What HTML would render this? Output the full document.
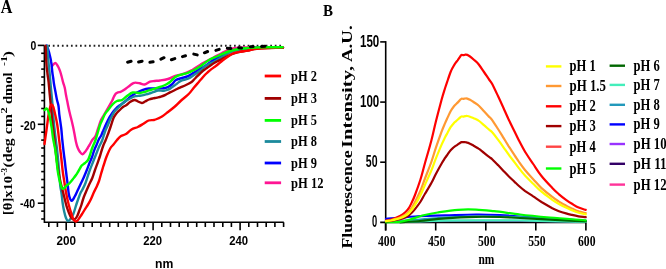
<!DOCTYPE html><html><head><meta charset="utf-8"><style>html,body{margin:0;padding:0;background:#fff;width:666px;height:269px;overflow:hidden}svg{display:block;will-change:transform;filter:blur(0.3px)}</style></head><body>
<svg width="666" height="269" viewBox="0 0 666 269">
<rect width="666" height="269" fill="#fff"/>
<text x="0.8" y="12.8" style="font-family:'Liberation Serif',serif;font-weight:bold;font-size:19px" textLength="11.6" lengthAdjust="spacingAndGlyphs">A</text>
<g transform="translate(12.2,215.0) rotate(-90)"><text x="0" y="0" style="font-family:'Liberation Serif',serif;font-weight:bold;font-size:13.5px" textLength="39.04" lengthAdjust="spacingAndGlyphs">[θ]x10</text></g>
<g transform="translate(12.2,167.5) rotate(-90)"><text x="0" y="0" style="font-family:'Liberation Serif',serif;font-weight:bold;font-size:13.5px" textLength="53.54" lengthAdjust="spacingAndGlyphs">(deg cm</text></g>
<g transform="translate(12.2,104.0) rotate(-90)"><text x="0" y="0" style="font-family:'Liberation Serif',serif;font-weight:bold;font-size:13.5px" textLength="31.57" lengthAdjust="spacingAndGlyphs">dmol</text></g>
<g transform="translate(12.2,57) rotate(-90)"><text x="0" y="0" style="font-family:'Liberation Serif',serif;font-weight:bold;font-size:13.5px" textLength="6.15" lengthAdjust="spacingAndGlyphs">)</text></g>
<g transform="translate(6.8,175.5) rotate(-90)"><text x="0" y="0" style="font-family:'Liberation Serif',serif;font-weight:bold;font-size:8.5px" textLength="7.67" lengthAdjust="spacingAndGlyphs">-3</text></g>
<g transform="translate(6.8,113.5) rotate(-90)"><text x="0" y="0" style="font-family:'Liberation Serif',serif;font-weight:bold;font-size:8.5px" textLength="6.25" lengthAdjust="spacingAndGlyphs">2</text></g>
<g transform="translate(6.8,66.0) rotate(-90)"><text x="0" y="0" style="font-family:'Liberation Serif',serif;font-weight:bold;font-size:8.5px" textLength="10.09" lengthAdjust="spacingAndGlyphs">-1</text></g>
<text x="30.4" y="49.9" style="font-family:'Liberation Sans',sans-serif;font-weight:bold;font-size:12.8px" textLength="5.8" lengthAdjust="spacingAndGlyphs">0</text>
<text x="20.2" y="129.7" style="font-family:'Liberation Sans',sans-serif;font-weight:bold;font-size:12.8px" textLength="15.6" lengthAdjust="spacingAndGlyphs">-20</text>
<text x="20.0" y="207.5" style="font-family:'Liberation Sans',sans-serif;font-weight:bold;font-size:12.8px" textLength="15.2" lengthAdjust="spacingAndGlyphs">-40</text>
<text x="56.5" y="245.2" style="font-family:'Liberation Sans',sans-serif;font-weight:bold;font-size:13.2px" textLength="19.5" lengthAdjust="spacingAndGlyphs">200</text>
<text x="143.2" y="245.2" style="font-family:'Liberation Sans',sans-serif;font-weight:bold;font-size:13.2px" textLength="18.9" lengthAdjust="spacingAndGlyphs">220</text>
<text x="229.2" y="245.2" style="font-family:'Liberation Sans',sans-serif;font-weight:bold;font-size:13.2px" textLength="18.9" lengthAdjust="spacingAndGlyphs">240</text>
<text x="155.0" y="268.0" style="font-family:'Liberation Sans',sans-serif;font-weight:bold;font-size:13.6px" textLength="18.3" lengthAdjust="spacingAndGlyphs">nm</text>
<g stroke="#000" stroke-width="1.6" fill="none" stroke-linecap="butt">
<path d="M44.4 45.4 V222.3 H283.8"/>
<path d="M37.8 45.4 H44.4"/>
<path d="M41.2 53.3 H44.4"/>
<path d="M41.2 61.2 H44.4"/>
<path d="M41.2 69.1 H44.4"/>
<path d="M41.2 77.0 H44.4"/>
<path d="M41.2 84.8 H44.4"/>
<path d="M41.2 92.7 H44.4"/>
<path d="M41.2 100.6 H44.4"/>
<path d="M41.2 108.5 H44.4"/>
<path d="M41.2 116.4 H44.4"/>
<path d="M37.8 124.3 H44.4"/>
<path d="M41.2 132.2 H44.4"/>
<path d="M41.2 140.1 H44.4"/>
<path d="M41.2 148.0 H44.4"/>
<path d="M41.2 155.9 H44.4"/>
<path d="M41.2 163.8 H44.4"/>
<path d="M41.2 171.6 H44.4"/>
<path d="M41.2 179.5 H44.4"/>
<path d="M41.2 187.4 H44.4"/>
<path d="M41.2 195.3 H44.4"/>
<path d="M37.8 203.2 H44.4"/>
<path d="M41.2 211.1 H44.4"/>
<path d="M41.2 219.0 H44.4"/>
<path d="M48.8 222.3 V227"/>
<path d="M57.4 222.3 V227"/>
<path d="M66.2 222.3 V230.3"/>
<path d="M74.8 222.3 V227"/>
<path d="M83.5 222.3 V227"/>
<path d="M92.2 222.3 V227"/>
<path d="M100.9 222.3 V227"/>
<path d="M109.7 222.3 V227"/>
<path d="M118.3 222.3 V227"/>
<path d="M127.0 222.3 V227"/>
<path d="M135.8 222.3 V227"/>
<path d="M144.4 222.3 V227"/>
<path d="M153.1 222.3 V230.3"/>
<path d="M161.8 222.3 V227"/>
<path d="M170.5 222.3 V227"/>
<path d="M179.2 222.3 V227"/>
<path d="M187.9 222.3 V227"/>
<path d="M196.7 222.3 V227"/>
<path d="M205.3 222.3 V227"/>
<path d="M214.0 222.3 V227"/>
<path d="M222.8 222.3 V227"/>
<path d="M231.4 222.3 V227"/>
<path d="M240.1 222.3 V230.3"/>
<path d="M248.8 222.3 V227"/>
<path d="M257.5 222.3 V227"/>
<path d="M266.2 222.3 V227"/>
<path d="M274.9 222.3 V227"/>
<path d="M283.6 222.3 V227"/>
</g>
<path d="M48.3 45.7 H283" stroke="#222" stroke-width="1.9" stroke-dasharray="1.7 2.83" stroke-linecap="butt" fill="none"/>
<g fill="none" stroke-width="2.4" stroke-linejoin="round" stroke-linecap="round">
<path d="M52.0 66.0 C52.5 65.5 54.3 63.0 55.3 63.0 C56.3 63.0 57.2 65.1 58.0 66.3 C58.8 67.5 59.2 68.8 59.8 70.4 C60.4 72.0 61.0 74.1 61.5 76.0 C62.0 77.9 62.5 80.0 63.0 82.0 C63.5 84.0 64.3 85.8 64.8 88.0 C65.3 90.2 65.6 93.0 66.0 95.0 C66.4 97.0 66.6 98.2 67.0 100.0 C67.4 101.8 67.8 104.0 68.2 106.0 C68.6 108.0 69.0 110.0 69.5 112.0 C70.0 114.0 70.4 115.7 71.0 118.0 C71.6 120.3 72.3 123.3 72.9 126.0 C73.5 128.7 74.0 131.3 74.5 134.0 C75.0 136.7 75.5 139.7 76.0 142.0 C76.5 144.3 77.1 146.3 77.8 148.0 C78.5 149.7 79.2 150.9 80.0 152.0 C80.8 153.1 81.6 154.4 82.5 154.3 C83.4 154.2 84.5 152.6 85.4 151.5 C86.3 150.4 87.0 149.1 87.7 148.0 C88.4 146.9 88.7 146.3 89.5 145.0 C90.3 143.7 91.3 141.5 92.3 140.0 C93.3 138.5 94.6 137.7 95.5 136.0 C96.4 134.3 96.9 132.0 97.6 130.0 C98.3 128.0 99.0 125.7 99.6 124.0 C100.2 122.3 100.3 121.5 101.0 120.0 C101.7 118.5 102.9 116.7 103.9 115.0 C104.9 113.3 105.8 111.7 106.8 110.0 C107.8 108.3 108.8 106.6 109.7 105.0 C110.6 103.4 111.7 101.6 112.4 100.2 C113.1 98.8 113.4 97.6 114.0 96.5 C114.6 95.4 115.1 94.3 115.8 93.6 C116.5 92.9 117.2 92.6 118.0 92.3 C118.8 92.0 119.7 92.2 120.5 91.9 C121.3 91.6 122.1 91.2 123.0 90.6 C123.9 90.0 124.8 89.4 126.0 88.5 C127.2 87.6 129.0 86.1 130.2 85.2 C131.4 84.3 132.1 83.7 133.0 83.3 C133.9 82.9 134.4 82.6 135.5 82.6 C136.6 82.6 138.3 83.0 139.8 83.3 C141.3 83.6 142.8 84.8 144.5 84.5 C146.2 84.2 148.3 82.3 150.0 81.7 C151.7 81.1 152.8 81.2 154.5 81.0 C156.2 80.8 157.8 80.8 160.0 80.5 C162.2 80.2 165.5 79.8 168.0 79.0 C170.5 78.2 172.2 77.0 175.2 76.0 C178.2 75.0 183.2 74.0 186.0 73.0 C188.8 72.0 190.0 71.3 192.3 70.0 C194.6 68.7 196.5 67.1 200.0 65.0 C203.5 62.9 209.8 59.6 213.5 57.6 C217.2 55.6 219.1 54.5 222.0 53.0 C224.9 51.5 228.0 49.7 231.0 48.8 C234.0 47.9 236.8 47.8 240.0 47.6 C243.2 47.4 245.8 47.5 250.0 47.4 C254.2 47.3 259.7 47.3 265.0 47.3 C270.3 47.3 279.2 47.4 282.0 47.4" stroke="#ff1493"/>
<path d="M46.6 45.6 C46.8 46.2 47.5 47.5 48.0 49.0 C48.5 50.5 49.1 52.3 49.6 54.5 C50.1 56.7 50.8 59.1 51.2 62.0 C51.7 64.9 52.0 69.3 52.3 72.0 C52.6 74.7 52.9 76.0 53.2 78.0 C53.5 80.0 53.6 81.7 54.0 84.0 C54.4 86.3 55.0 89.3 55.5 92.0 C56.0 94.7 56.5 97.7 57.0 100.0 C57.5 102.3 58.1 103.3 58.5 106.0 C58.9 108.7 59.0 112.3 59.5 116.0 C60.0 119.7 60.7 124.0 61.2 128.0 C61.7 132.0 61.9 136.3 62.3 140.0 C62.7 143.7 63.0 146.5 63.4 150.0 C63.8 153.5 64.3 157.3 64.8 161.0 C65.2 164.7 65.6 168.3 66.1 172.0 C66.5 175.7 67.0 179.3 67.5 183.0 C68.0 186.7 68.3 191.3 68.8 194.0 C69.2 196.7 69.8 197.9 70.2 199.0 C70.7 200.1 71.0 200.7 71.5 200.8 C72.0 200.9 72.4 200.3 73.0 199.5 C73.6 198.7 74.3 197.2 75.0 196.0 C75.7 194.8 76.2 193.4 76.9 192.0 C77.6 190.6 78.3 188.9 79.0 187.5 C79.7 186.1 80.2 185.1 80.9 183.5 C81.7 181.9 82.5 180.2 83.5 178.0 C84.5 175.8 85.8 172.5 86.8 170.0 C87.8 167.5 88.6 165.2 89.5 163.0 C90.4 160.8 91.2 159.2 92.0 157.0 C92.8 154.8 93.5 152.0 94.3 150.0 C95.0 148.0 95.7 146.8 96.5 145.0 C97.3 143.2 98.2 140.6 99.0 139.0 C99.8 137.4 100.5 136.9 101.2 135.5 C101.9 134.1 102.5 132.2 103.3 130.5 C104.0 128.8 105.0 126.7 105.7 125.0 C106.5 123.3 107.0 122.0 107.8 120.5 C108.6 119.0 109.4 117.4 110.3 116.0 C111.2 114.6 112.0 113.2 113.0 112.0 C114.0 110.8 114.9 109.6 116.0 108.5 C117.1 107.4 118.0 106.7 119.5 105.5 C121.0 104.3 123.4 102.8 125.0 101.5 C126.6 100.2 127.7 98.9 129.0 97.8 C130.3 96.7 131.3 96.0 132.8 95.0 C134.3 94.0 136.3 92.9 138.0 92.0 C139.7 91.1 141.2 90.4 143.0 89.8 C144.8 89.2 147.0 88.7 149.0 88.5 C151.0 88.3 153.0 88.5 155.0 88.5 C157.0 88.5 159.3 88.5 161.0 88.4 C162.7 88.3 163.9 88.3 165.2 88.0 C166.4 87.7 167.4 87.4 168.5 86.8 C169.6 86.2 170.6 85.6 171.8 84.5 C173.1 83.4 174.3 81.1 176.0 80.0 C177.7 78.9 180.0 78.6 182.0 78.0 C184.0 77.4 186.0 77.1 188.0 76.2 C190.0 75.3 191.8 73.9 194.0 72.6 C196.2 71.3 199.2 69.5 201.0 68.4 C202.8 67.3 202.9 67.4 205.0 66.0 C207.1 64.6 210.7 61.8 213.5 60.0 C216.3 58.2 219.1 57.0 222.0 55.5 C224.9 54.0 228.0 52.1 231.0 51.0 C234.0 49.9 236.8 49.5 240.0 49.0 C243.2 48.5 246.7 48.4 250.0 48.2 C253.3 48.0 254.5 47.9 260.0 47.8 C265.5 47.7 279.2 47.6 283.0 47.6" stroke="#0000ff"/>
<path d="M47.2 45.6 C47.3 46.3 47.4 47.3 47.6 50.0 C47.8 52.7 48.2 58.3 48.5 62.0 C48.8 65.7 49.2 68.7 49.5 72.0 C49.8 75.3 50.1 78.3 50.4 82.0 C50.7 85.7 51.1 90.0 51.5 94.0 C51.9 98.0 52.3 102.0 52.6 106.0 C52.9 110.0 53.2 114.3 53.5 118.0 C53.8 121.7 54.0 124.3 54.4 128.0 C54.8 131.7 55.3 136.3 55.8 140.0 C56.2 143.7 56.7 146.3 57.1 150.0 C57.5 153.7 57.9 158.0 58.3 162.0 C58.7 166.0 59.0 170.0 59.3 174.0 C59.6 178.0 59.9 182.7 60.3 186.0 C60.7 189.3 61.2 191.0 61.6 194.0 C62.0 197.0 62.3 201.0 62.8 204.0 C63.2 207.0 63.8 209.7 64.3 212.0 C64.8 214.3 65.4 216.5 66.0 218.0 C66.6 219.5 67.2 220.8 67.9 221.0 C68.6 221.2 69.1 220.7 70.0 219.5 C70.9 218.3 72.2 216.6 73.3 214.0 C74.4 211.4 75.3 207.5 76.5 204.0 C77.7 200.5 79.5 195.3 80.5 193.0 C81.5 190.7 81.4 191.7 82.2 190.0 C83.0 188.3 84.3 186.2 85.5 183.0 C86.7 179.8 88.2 174.5 89.5 171.0 C90.8 167.5 91.9 164.8 93.0 162.0 C94.1 159.2 95.2 156.5 96.2 154.0 C97.2 151.5 98.0 149.3 99.0 147.0 C100.0 144.7 101.3 142.7 102.3 140.0 C103.3 137.3 104.3 133.3 105.2 131.0 C106.1 128.7 106.7 127.8 107.5 126.0 C108.3 124.2 109.1 121.8 109.9 120.0 C110.7 118.2 111.6 116.6 112.5 115.0 C113.4 113.4 114.2 111.8 115.3 110.5 C116.4 109.2 117.9 108.1 119.0 107.0 C120.1 105.9 120.8 105.1 122.0 104.0 C123.2 102.9 125.0 101.5 126.5 100.5 C128.0 99.5 129.5 98.7 131.0 98.0 C132.5 97.3 134.0 96.6 135.5 96.2 C137.0 95.8 138.5 95.9 140.0 95.7 C141.5 95.5 143.0 95.2 144.5 94.8 C146.0 94.4 147.4 94.1 149.0 93.6 C150.6 93.1 152.5 92.3 154.0 91.8 C155.5 91.3 156.8 90.8 158.0 90.6 C159.2 90.4 160.0 90.6 161.0 90.6 C162.0 90.6 163.0 90.9 164.0 90.8 C165.0 90.7 166.0 90.4 167.0 90.0 C168.0 89.6 169.0 89.2 170.0 88.6 C171.0 88.0 172.0 87.3 173.0 86.6 C174.0 85.9 175.0 85.2 176.0 84.4 C177.0 83.6 178.0 82.7 179.0 82.0 C180.0 81.3 180.5 81.0 182.0 80.4 C183.5 79.8 186.0 79.5 188.0 78.6 C190.0 77.7 192.0 76.3 194.0 75.0 C196.0 73.7 198.2 72.2 200.0 70.8 C201.8 69.4 203.1 67.8 204.8 66.6 C206.5 65.4 208.6 64.3 210.0 63.5 C211.4 62.7 211.5 63.1 213.5 62.0 C215.5 60.9 219.1 58.7 222.0 57.0 C224.9 55.3 228.0 53.2 231.0 52.0 C234.0 50.8 236.8 50.1 240.0 49.5 C243.2 48.9 246.7 48.5 250.0 48.2 C253.3 47.9 254.5 47.9 260.0 47.8 C265.5 47.7 279.2 47.6 283.0 47.6" stroke="#1b8a9c"/>
<path d="M45.6 45.6 C45.6 46.3 45.7 47.9 45.8 50.0 C45.9 52.1 46.0 55.3 46.1 58.0 C46.2 60.7 46.4 63.3 46.6 66.0 C46.8 68.7 47.2 71.3 47.5 74.0 C47.8 76.7 48.3 79.0 48.6 82.0 C48.9 85.0 49.2 89.0 49.5 92.0 C49.8 95.0 50.0 97.3 50.3 100.0 C50.5 102.7 50.7 105.0 51.0 108.0 C51.3 111.0 51.7 114.7 52.0 118.0 C52.3 121.3 52.6 124.7 53.0 128.0 C53.4 131.3 53.8 134.3 54.2 138.0 C54.6 141.7 55.0 146.0 55.5 150.0 C56.0 154.0 56.5 158.3 57.0 162.0 C57.5 165.7 57.9 168.7 58.5 172.0 C59.1 175.3 59.8 179.0 60.5 182.0 C61.2 185.0 61.8 187.3 62.5 190.0 C63.2 192.7 63.8 195.3 64.5 198.0 C65.2 200.7 65.8 203.5 66.5 206.0 C67.2 208.5 68.2 211.0 69.0 213.0 C69.8 215.0 70.6 216.9 71.5 218.0 C72.4 219.1 73.3 219.8 74.2 219.5 C75.1 219.2 76.2 217.9 77.0 216.5 C77.8 215.1 78.5 212.9 79.2 211.0 C79.9 209.1 80.7 207.2 81.4 205.0 C82.1 202.8 82.8 200.0 83.5 198.0 C84.2 196.0 84.7 195.0 85.5 193.0 C86.3 191.0 87.4 188.5 88.5 186.0 C89.6 183.5 91.2 180.7 92.3 178.0 C93.4 175.3 94.1 172.6 95.0 170.0 C95.9 167.4 97.0 164.6 97.8 162.3 C98.6 160.0 99.3 158.1 100.0 156.0 C100.7 153.9 101.2 151.8 101.8 150.0 C102.4 148.2 102.8 146.7 103.5 145.0 C104.2 143.3 105.0 141.8 105.7 140.0 C106.5 138.2 107.2 136.2 108.0 134.0 C108.8 131.8 109.6 129.7 110.5 127.0 C111.4 124.3 112.6 120.2 113.5 118.0 C114.4 115.8 115.0 115.3 116.0 114.0 C117.0 112.7 118.6 111.2 119.8 110.0 C121.0 108.8 121.9 107.8 123.0 107.0 C124.1 106.2 125.3 105.8 126.5 105.0 C127.7 104.2 128.7 102.8 130.0 102.0 C131.3 101.2 133.3 100.1 134.6 100.0 C135.9 99.9 136.8 101.0 138.0 101.5 C139.2 102.0 140.6 103.0 141.8 103.0 C143.0 103.0 143.8 102.1 145.0 101.5 C146.2 100.9 147.7 100.0 149.0 99.5 C150.3 99.0 151.7 98.7 153.0 98.4 C154.3 98.1 155.7 97.9 157.0 97.6 C158.3 97.3 159.6 97.1 161.0 96.6 C162.4 96.1 164.0 95.5 165.5 94.8 C167.0 94.1 168.4 93.2 170.0 92.4 C171.6 91.6 173.3 90.8 175.0 90.0 C176.7 89.2 178.2 88.4 180.0 87.6 C181.8 86.8 184.1 85.9 186.0 85.0 C187.9 84.1 190.2 83.0 191.6 82.0 C193.0 81.0 193.6 79.9 194.5 79.0 C195.4 78.1 196.1 77.3 197.0 76.4 C197.9 75.5 199.0 74.4 200.0 73.5 C201.0 72.6 202.0 71.6 203.0 70.8 C204.0 70.0 205.0 69.2 206.0 68.5 C207.0 67.8 207.5 67.6 209.0 66.6 C210.5 65.6 212.8 63.8 215.0 62.5 C217.2 61.2 219.8 60.1 222.0 59.0 C224.2 57.9 226.0 56.7 228.0 55.8 C230.0 54.9 232.0 54.1 234.0 53.4 C236.0 52.7 237.7 52.3 240.0 51.8 C242.3 51.3 245.3 51.0 247.6 50.6 C249.9 50.2 251.6 49.5 254.0 49.1 C256.4 48.7 259.3 48.5 262.0 48.3 C264.7 48.1 266.5 48.1 270.0 48.0 C273.5 47.9 280.8 47.8 283.0 47.7" stroke="#a00000"/>
<path d="M44.5 144.0 C44.8 141.7 45.8 134.8 46.5 130.0 C47.2 125.2 47.9 118.9 48.5 115.0 C49.1 111.1 49.8 108.2 50.3 106.5 C50.8 104.8 51.2 104.4 51.7 104.5 C52.2 104.6 52.7 105.2 53.3 107.0 C53.9 108.8 54.6 112.0 55.3 115.0 C56.0 118.0 56.7 121.3 57.3 125.0 C57.9 128.7 58.3 133.0 58.8 137.0 C59.3 141.0 59.8 145.2 60.2 149.0 C60.7 152.8 61.1 156.2 61.5 160.0 C61.9 163.8 62.3 168.2 62.8 172.0 C63.3 175.8 64.0 179.5 64.5 183.0 C65.0 186.5 65.4 189.3 66.1 193.0 C66.8 196.7 67.9 201.5 68.8 205.0 C69.7 208.5 70.7 211.6 71.5 214.0 C72.3 216.4 72.8 218.2 73.5 219.5 C74.2 220.8 74.8 221.4 75.6 221.5 C76.3 221.6 77.0 221.1 78.0 220.0 C79.0 218.9 80.3 216.7 81.4 215.0 C82.5 213.3 83.5 211.7 84.5 210.0 C85.5 208.3 86.6 206.8 87.7 205.0 C88.8 203.2 90.0 201.2 91.0 199.0 C92.0 196.8 93.1 194.0 94.0 192.0 C94.9 190.0 95.7 188.8 96.5 187.0 C97.3 185.2 98.2 183.2 99.0 181.0 C99.8 178.8 100.3 176.5 101.0 174.0 C101.7 171.5 102.7 168.4 103.4 166.0 C104.2 163.6 104.8 161.6 105.5 159.5 C106.2 157.4 107.1 155.3 107.9 153.4 C108.7 151.5 109.6 149.5 110.5 148.0 C111.4 146.5 112.4 145.8 113.5 144.5 C114.6 143.2 115.8 141.4 117.0 140.0 C118.2 138.6 119.5 137.0 121.0 136.0 C122.5 135.0 124.2 135.1 126.0 134.0 C127.8 132.9 129.5 130.7 131.5 129.5 C133.5 128.3 135.9 127.9 137.8 127.0 C139.7 126.1 141.2 125.1 143.0 124.0 C144.8 122.9 146.8 121.2 148.6 120.5 C150.4 119.8 152.4 120.3 154.0 120.0 C155.6 119.7 156.7 119.1 158.0 118.5 C159.3 117.9 160.3 117.6 162.0 116.5 C163.7 115.4 165.9 113.6 168.0 112.0 C170.1 110.4 172.2 108.8 174.3 107.0 C176.4 105.2 178.2 103.2 180.6 101.0 C183.0 98.8 186.5 96.2 188.7 94.0 C190.9 91.8 192.3 89.5 194.0 87.5 C195.7 85.5 197.5 83.5 198.8 82.0 C200.1 80.5 200.8 79.6 201.8 78.4 C202.8 77.2 203.8 76.1 204.8 75.0 C205.8 73.9 207.0 72.9 208.0 72.0 C209.0 71.1 209.9 70.3 210.8 69.6 C211.7 68.9 212.6 68.3 213.5 67.6 C214.4 66.9 215.5 66.3 216.5 65.5 C217.5 64.7 218.5 63.8 219.5 63.0 C220.5 62.2 221.2 61.5 222.5 60.5 C223.8 59.5 225.4 58.3 227.0 57.2 C228.6 56.1 230.5 54.8 232.0 54.0 C233.5 53.2 234.7 53.0 236.0 52.6 C237.3 52.2 238.6 52.0 239.8 51.8 C241.1 51.6 242.2 51.4 243.5 51.2 C244.8 51.0 246.3 50.8 247.6 50.6 C248.8 50.4 249.9 50.1 251.0 49.9 C252.1 49.6 252.8 49.3 254.0 49.1 C255.2 48.9 256.7 48.7 258.0 48.6 C259.3 48.5 260.3 48.4 262.0 48.3 C263.7 48.2 265.8 48.1 268.0 48.0 C270.2 47.9 272.5 47.9 275.0 47.8 C277.5 47.7 281.7 47.6 283.0 47.6" stroke="#ff0000"/>
<path d="M44.5 110.0 C44.9 109.8 46.1 108.2 46.8 108.5 C47.5 108.8 48.0 110.4 48.5 112.0 C49.0 113.6 49.5 115.3 50.0 118.0 C50.5 120.7 51.2 124.7 51.7 128.0 C52.2 131.3 52.4 134.3 53.0 138.0 C53.6 141.7 54.7 146.3 55.3 150.0 C55.9 153.7 56.1 156.7 56.5 160.0 C56.9 163.3 57.2 167.0 57.6 170.0 C58.0 173.0 58.5 175.7 59.0 178.0 C59.5 180.3 60.0 182.2 60.5 184.0 C61.0 185.8 61.3 187.8 62.0 188.5 C62.7 189.2 63.8 188.4 64.5 188.0 C65.2 187.6 65.1 186.8 66.0 186.0 C66.9 185.2 68.5 184.2 69.7 183.0 C70.9 181.8 72.0 180.3 73.0 179.0 C74.0 177.7 75.1 176.3 76.0 175.0 C76.9 173.7 77.5 172.6 78.5 171.0 C79.5 169.4 80.6 166.8 81.7 165.5 C82.8 164.2 84.0 163.9 85.0 163.0 C86.0 162.1 87.2 161.3 88.0 160.0 C88.8 158.7 89.4 156.7 90.0 155.0 C90.6 153.3 91.0 151.5 91.5 150.0 C92.0 148.5 92.3 147.7 93.0 146.0 C93.7 144.3 94.6 142.7 95.5 140.0 C96.4 137.3 97.8 132.5 98.5 130.0 C99.2 127.5 99.4 126.7 100.0 125.0 C100.6 123.3 101.4 121.8 102.2 120.0 C103.0 118.2 104.0 115.7 105.0 114.0 C106.0 112.3 106.8 111.7 108.1 110.0 C109.4 108.3 111.5 105.5 113.0 104.0 C114.5 102.5 115.5 101.7 117.0 101.0 C118.5 100.3 120.3 100.8 122.0 100.0 C123.7 99.2 125.2 97.2 127.0 96.0 C128.8 94.8 130.6 93.0 132.8 92.5 C135.0 92.0 138.0 93.1 140.0 93.0 C142.0 92.9 143.5 92.2 145.0 91.8 C146.5 91.4 147.3 90.9 149.0 90.4 C150.7 89.9 153.2 89.2 155.0 88.6 C156.8 88.0 158.5 87.5 160.0 87.0 C161.5 86.5 162.8 86.0 164.0 85.5 C165.2 85.0 166.0 84.6 167.0 84.0 C168.0 83.4 169.0 82.8 170.0 82.0 C171.0 81.2 172.0 79.9 173.0 79.0 C174.0 78.1 174.5 77.3 176.0 76.6 C177.5 75.8 180.0 75.1 182.0 74.5 C184.0 73.9 186.1 73.4 187.8 72.8 C189.5 72.2 190.6 71.6 192.0 71.0 C193.4 70.4 194.7 69.8 196.0 69.0 C197.3 68.2 197.8 68.0 200.0 66.5 C202.2 65.0 206.0 61.8 209.0 60.0 C212.0 58.2 215.0 57.3 218.0 56.0 C221.0 54.7 224.0 53.1 227.0 52.0 C230.0 50.9 233.0 50.1 236.0 49.5 C239.0 48.9 242.0 48.6 245.0 48.3 C248.0 48.0 250.7 47.8 254.0 47.6 C257.3 47.4 260.2 47.3 265.0 47.3 C269.8 47.2 279.7 47.3 282.6 47.3" stroke="#00ff00"/>
</g>
<path d="M127.6 62.2 L131.1 61.3 M138.6 62.0 L142.1 61.2 M149.9 62.3 L153.1 61.8 M160.9 59.2 L164.0 57.7 M171.4 59.7 L174.8 58.6 M182.5 56.6 L185.5 55.8 M193.8 54.1 L197.2 54.9 M204.4 52.8 L207.6 51.5 M215.9 50.4 L219.2 49.4 M227.3 48.3 L230.9 48.4 M238.7 47.7 L241.5 48.0 M250.4 46.7 L253.1 46.6 M261.5 46.5 L265.0 46.3" fill="none" stroke="#000" stroke-width="3" stroke-linecap="round"/>
<path d="M264.7 76.0 H281.1" stroke="#ff0000" stroke-width="2.8"/>
<text x="291.1" y="80.8" style="font-family:'Liberation Serif',serif;font-weight:bold;font-size:13.6px" textLength="25.8" lengthAdjust="spacingAndGlyphs">pH 2</text>
<path d="M264.7 98.4 H281.1" stroke="#a00000" stroke-width="2.8"/>
<text x="291.1" y="103.2" style="font-family:'Liberation Serif',serif;font-weight:bold;font-size:13.6px" textLength="25.8" lengthAdjust="spacingAndGlyphs">pH 3</text>
<path d="M264.7 120.4 H281.1" stroke="#00ff00" stroke-width="2.8"/>
<text x="291.1" y="125.2" style="font-family:'Liberation Serif',serif;font-weight:bold;font-size:13.6px" textLength="25.8" lengthAdjust="spacingAndGlyphs">pH 5</text>
<path d="M264.7 141.5 H281.1" stroke="#1b8a9c" stroke-width="2.8"/>
<text x="291.1" y="146.3" style="font-family:'Liberation Serif',serif;font-weight:bold;font-size:13.6px" textLength="25.8" lengthAdjust="spacingAndGlyphs">pH 8</text>
<path d="M264.7 163.0 H281.1" stroke="#0000ff" stroke-width="2.8"/>
<text x="291.1" y="167.8" style="font-family:'Liberation Serif',serif;font-weight:bold;font-size:13.6px" textLength="25.8" lengthAdjust="spacingAndGlyphs">pH 9</text>
<path d="M264.7 182.8 H281.1" stroke="#ff1493" stroke-width="2.8"/>
<text x="291.1" y="187.6" style="font-family:'Liberation Serif',serif;font-weight:bold;font-size:13.6px" textLength="32.4" lengthAdjust="spacingAndGlyphs">pH 12</text>
<text x="322.9" y="15.5" style="font-family:'Liberation Serif',serif;font-weight:bold;font-size:16.8px" textLength="10.0" lengthAdjust="spacingAndGlyphs">B</text>
<g transform="translate(352.4,248.5) rotate(-90)"><text x="0" y="0" style="font-family:'Liberation Serif',serif;font-weight:bold;font-size:14.2px" textLength="98.01" lengthAdjust="spacingAndGlyphs">Fluorescence</text></g>
<g transform="translate(352.4,148.0) rotate(-90)"><text x="0" y="0" style="font-family:'Liberation Serif',serif;font-weight:bold;font-size:14.2px" textLength="82.06" lengthAdjust="spacingAndGlyphs">Intensity,</text></g>
<g transform="translate(352.4,62.0) rotate(-90)"><text x="0" y="0" style="font-family:'Liberation Serif',serif;font-weight:bold;font-size:14.2px" textLength="36.61" lengthAdjust="spacingAndGlyphs">A.U.</text></g>
<text x="360.0" y="46.5" style="font-family:'Liberation Sans',sans-serif;font-weight:bold;font-size:16.8px" textLength="19.3" lengthAdjust="spacingAndGlyphs">150</text>
<text x="360.0" y="106.6" style="font-family:'Liberation Sans',sans-serif;font-weight:bold;font-size:16.8px" textLength="19.3" lengthAdjust="spacingAndGlyphs">100</text>
<text x="365.8" y="167.0" style="font-family:'Liberation Sans',sans-serif;font-weight:bold;font-size:16.8px" textLength="11.7" lengthAdjust="spacingAndGlyphs">50</text>
<text x="372.1" y="227.1" style="font-family:'Liberation Sans',sans-serif;font-weight:bold;font-size:16.8px" textLength="5.2" lengthAdjust="spacingAndGlyphs">0</text>
<text x="378.0" y="246.0" style="font-family:'Liberation Serif',serif;font-weight:bold;font-size:15.6px" textLength="17.5" lengthAdjust="spacingAndGlyphs">400</text>
<text x="427.9" y="246.0" style="font-family:'Liberation Serif',serif;font-weight:bold;font-size:15.6px" textLength="17.5" lengthAdjust="spacingAndGlyphs">450</text>
<text x="478.0" y="246.0" style="font-family:'Liberation Serif',serif;font-weight:bold;font-size:15.6px" textLength="17.5" lengthAdjust="spacingAndGlyphs">500</text>
<text x="528.2" y="246.0" style="font-family:'Liberation Serif',serif;font-weight:bold;font-size:15.6px" textLength="17.5" lengthAdjust="spacingAndGlyphs">550</text>
<text x="578.0" y="246.0" style="font-family:'Liberation Serif',serif;font-weight:bold;font-size:15.6px" textLength="17.5" lengthAdjust="spacingAndGlyphs">600</text>
<text x="478.4" y="264.3" style="font-family:'Liberation Serif',serif;font-weight:bold;font-size:15.4px" textLength="15.9" lengthAdjust="spacingAndGlyphs">nm</text>
<g stroke="#000" stroke-width="1.6" fill="none">
<path d="M385.7 41.1 V230.5"/>
<path d="M380.2 222.4 H586.2"/>
<path d="M380.2 41.9 H385.7"/>
<path d="M380.2 102.1 H385.7"/>
<path d="M380.2 162.2 H385.7"/>
<path d="M385.6 222.4 V230.5"/>
<path d="M435.7 222.4 V230.5"/>
<path d="M485.8 222.4 V230.5"/>
<path d="M535.8 222.4 V230.5"/>
<path d="M585.9 222.4 V230.5"/>
</g>
<g fill="none" stroke-width="2.2" stroke-linejoin="round" stroke-linecap="round">
<path d="M420.0 221.2 C429.3 221.1 459.3 220.9 476.0 220.8 C492.7 220.8 501.7 220.8 520.0 220.9 C538.3 221.0 574.8 221.5 585.7 221.6" stroke="#5a2a9a"/>
<path d="M386.0 218.8 C388.3 218.6 395.2 218.2 400.0 217.8 C404.8 217.4 407.5 216.9 415.0 216.5 C422.5 216.1 434.8 215.7 445.0 215.4 C455.2 215.1 466.8 214.6 476.0 214.5 C485.2 214.4 492.7 214.7 500.0 215.0 C507.3 215.3 511.7 216.0 520.0 216.6 C528.3 217.2 539.0 217.8 550.0 218.5 C561.0 219.2 579.8 220.4 585.7 220.8" stroke="#0000ff"/>
<path d="M386.0 221.5 C391.7 221.2 410.2 220.2 420.0 219.5 C429.8 218.8 435.7 218.0 445.0 217.5 C454.3 217.0 463.5 216.6 476.0 216.5 C488.5 216.4 506.0 216.7 520.0 217.2 C534.0 217.7 549.0 218.9 560.0 219.5 C571.0 220.1 581.4 220.8 585.7 221.0" stroke="#2299bb"/>
<path d="M386.0 222.0 C391.7 221.9 410.2 221.5 420.0 221.3 C429.8 221.1 435.7 220.8 445.0 220.6 C454.3 220.4 463.5 220.4 476.0 220.4 C488.5 220.4 506.0 220.3 520.0 220.5 C534.0 220.7 549.0 221.1 560.0 221.3 C571.0 221.5 581.4 221.7 585.7 221.8" stroke="#44eebb"/>
<path d="M400.0 222.3 C403.3 222.1 412.5 221.7 420.0 221.0 C427.5 220.3 435.7 219.0 445.0 218.3 C454.3 217.6 466.8 217.0 476.0 216.8 C485.2 216.6 492.7 216.8 500.0 217.0 C507.3 217.2 510.0 217.5 520.0 218.0 C530.0 218.5 549.0 219.6 560.0 220.2 C571.0 220.8 581.4 221.2 585.7 221.4" stroke="#006600"/>
<path d="M386.0 222.3 C388.3 222.2 396.0 222.3 400.0 221.8 C404.0 221.3 406.2 220.6 410.0 219.5 C413.8 218.4 417.9 216.7 422.5 215.5 C427.1 214.3 431.7 213.4 437.6 212.5 C443.5 211.6 451.6 210.3 458.0 209.8 C464.4 209.3 470.0 209.4 476.0 209.6 C482.0 209.8 486.7 210.4 494.0 211.2 C501.3 212.0 510.7 213.4 520.0 214.5 C529.3 215.6 539.0 216.5 550.0 217.5 C561.0 218.5 579.8 219.8 585.7 220.3" stroke="#00ff00"/>
<path d="M386.0 221.3 C386.8 221.3 388.7 221.2 391.0 220.9 C393.3 220.5 397.7 219.7 400.0 219.2 C402.3 218.6 403.5 218.2 405.0 217.5 C406.5 216.9 407.8 216.1 409.0 215.3 C410.2 214.4 411.0 213.5 412.0 212.5 C413.0 211.5 413.6 210.9 415.0 209.1 C416.4 207.4 418.6 204.5 420.3 202.0 C422.0 199.4 423.1 197.0 425.0 193.8 C426.9 190.6 429.7 186.2 431.5 182.8 C433.3 179.5 434.3 176.9 436.0 173.7 C437.7 170.5 440.0 166.3 441.5 163.7 C443.0 161.0 444.1 159.5 445.1 157.9 C446.2 156.3 446.9 155.4 447.8 154.1 C448.7 152.8 449.8 151.2 450.6 150.3 C451.4 149.3 451.8 149.0 452.5 148.4 C453.2 147.7 453.8 147.2 454.6 146.6 C455.5 146.0 456.7 145.3 457.6 144.7 C458.5 144.1 459.4 143.4 460.0 143.0 C460.6 142.6 460.9 142.3 461.5 142.1 C462.1 142.0 462.7 142.2 463.3 142.2 C463.9 142.2 464.6 142.1 465.3 142.2 C466.0 142.2 466.5 142.3 467.3 142.6 C468.1 142.8 468.9 143.2 470.0 143.7 C471.1 144.2 472.2 144.9 473.6 145.7 C475.0 146.5 476.9 147.4 478.6 148.6 C480.3 149.7 482.2 151.4 484.0 152.8 C485.8 154.3 488.0 156.1 489.4 157.1 C490.8 158.2 490.8 157.9 492.2 159.2 C493.6 160.6 496.1 163.2 498.0 165.1 C499.9 167.1 501.7 169.0 503.5 170.9 C505.3 172.8 507.0 174.7 508.9 176.5 C510.8 178.4 513.2 180.5 514.8 182.1 C516.4 183.6 517.0 184.2 518.7 185.7 C520.4 187.2 522.8 189.3 525.2 191.1 C527.6 192.8 530.5 194.5 533.2 196.4 C535.9 198.2 538.3 200.0 541.5 202.0 C544.7 203.9 549.4 206.6 552.3 208.2 C555.2 209.7 556.7 210.3 559.0 211.2 C561.3 212.1 563.8 212.8 566.0 213.4 C568.2 214.0 569.9 214.4 572.0 214.9 C574.1 215.4 576.3 215.9 578.6 216.3 C580.9 216.7 584.5 217.0 585.7 217.2" stroke="#a00000"/>
<path d="M386.0 220.5 C386.8 220.3 388.7 220.2 391.0 219.5 C393.3 218.8 397.7 217.2 400.0 216.0 C402.3 214.8 403.5 213.9 405.0 212.5 C406.5 211.1 407.8 209.6 409.0 207.8 C410.2 206.1 411.0 204.1 412.0 202.0 C413.0 199.9 413.6 198.7 415.0 195.0 C416.4 191.3 418.6 185.3 420.3 180.0 C422.0 174.7 423.1 169.7 425.0 163.0 C426.9 156.3 429.7 147.0 431.5 140.0 C433.3 133.0 434.3 127.7 436.0 121.0 C437.7 114.3 440.0 105.5 441.5 100.0 C443.0 94.5 444.1 91.3 445.1 88.0 C446.2 84.7 446.9 82.7 447.8 80.0 C448.7 77.3 449.8 74.0 450.6 72.0 C451.4 70.0 451.8 69.3 452.5 68.0 C453.2 66.7 453.8 65.6 454.6 64.3 C455.5 63.0 456.7 61.5 457.6 60.3 C458.5 59.0 459.4 57.7 460.0 56.8 C460.6 55.9 460.9 55.3 461.5 55.0 C462.1 54.7 462.7 55.3 463.3 55.2 C463.9 55.2 464.6 54.8 465.3 54.7 C466.0 54.7 466.5 54.6 467.3 54.9 C468.1 55.2 468.9 55.7 470.0 56.5 C471.1 57.3 472.2 58.2 473.6 59.5 C475.0 60.8 476.9 62.1 478.6 64.2 C480.3 66.3 482.2 69.4 484.0 72.0 C485.8 74.6 488.0 78.0 489.4 80.0 C490.8 82.0 490.8 81.3 492.2 84.0 C493.6 86.7 496.1 92.0 498.0 96.0 C499.9 100.0 501.7 104.0 503.5 108.0 C505.3 112.0 507.0 116.0 508.9 120.0 C510.8 124.0 513.2 128.7 514.8 132.0 C516.4 135.3 517.0 136.7 518.7 140.0 C520.4 143.3 522.8 148.0 525.2 152.0 C527.6 156.0 530.5 160.0 533.2 164.0 C535.9 168.0 538.3 172.0 541.5 176.0 C544.7 180.0 549.4 184.9 552.3 188.0 C555.2 191.1 556.7 192.3 559.0 194.3 C561.3 196.3 563.8 198.2 566.0 199.8 C568.2 201.4 569.9 202.5 572.0 203.8 C574.1 205.1 576.3 206.6 578.6 207.6 C580.9 208.6 584.5 209.5 585.7 209.9" stroke="#ff0000"/>
<path d="M386.0 220.9 C386.8 220.8 388.7 220.7 391.0 220.2 C393.3 219.6 397.7 218.5 400.0 217.6 C402.3 216.7 403.5 216.0 405.0 215.0 C406.5 214.0 407.8 212.8 409.0 211.5 C410.2 210.2 411.0 208.8 412.0 207.3 C413.0 205.7 413.6 204.8 415.0 202.1 C416.4 199.4 418.6 194.9 420.3 191.0 C422.0 187.1 423.1 183.4 425.0 178.5 C426.9 173.5 429.7 166.6 431.5 161.5 C433.3 156.3 434.3 152.4 436.0 147.4 C437.7 142.5 440.0 136.0 441.5 131.9 C443.0 127.9 444.1 125.5 445.1 123.1 C446.2 120.6 446.9 119.1 447.8 117.1 C448.7 115.2 449.8 112.7 450.6 111.2 C451.4 109.8 451.8 109.2 452.5 108.3 C453.2 107.3 453.8 106.5 454.6 105.6 C455.5 104.6 456.7 103.5 457.6 102.6 C458.5 101.7 459.4 100.7 460.0 100.0 C460.6 99.4 460.9 98.9 461.5 98.7 C462.1 98.5 462.7 98.9 463.3 98.8 C463.9 98.8 464.6 98.5 465.3 98.5 C466.0 98.4 466.5 98.4 467.3 98.6 C468.1 98.8 468.9 99.2 470.0 99.8 C471.1 100.4 472.2 101.1 473.6 102.0 C475.0 103.0 476.9 103.9 478.6 105.5 C480.3 107.0 482.2 109.3 484.0 111.2 C485.8 113.2 488.0 115.7 489.4 117.1 C490.8 118.6 490.8 118.1 492.2 120.1 C493.6 122.1 496.1 126.0 498.0 129.0 C499.9 131.9 501.7 134.9 503.5 137.8 C505.3 140.8 507.0 143.7 508.9 146.7 C510.8 149.6 513.2 153.1 514.8 155.6 C516.4 158.0 517.0 159.0 518.7 161.5 C520.4 163.9 522.8 167.4 525.2 170.3 C527.6 173.3 530.5 176.2 533.2 179.2 C535.9 182.1 538.3 185.1 541.5 188.1 C544.7 191.0 549.4 194.7 552.3 196.9 C555.2 199.2 556.7 200.1 559.0 201.6 C561.3 203.0 563.8 204.5 566.0 205.6 C568.2 206.8 569.9 207.6 572.0 208.6 C574.1 209.5 576.3 210.6 578.6 211.4 C580.9 212.1 584.5 212.8 585.7 213.1" stroke="#ff9933"/>
<path d="M386.0 221.1 C386.8 221.0 388.7 220.9 391.0 220.5 C393.3 220.0 397.7 219.0 400.0 218.2 C402.3 217.5 403.5 216.9 405.0 216.0 C406.5 215.2 407.8 214.2 409.0 213.1 C410.2 212.0 411.0 210.7 412.0 209.4 C413.0 208.0 413.6 207.3 415.0 205.0 C416.4 202.7 418.6 198.9 420.3 195.5 C422.0 192.1 423.1 189.0 425.0 184.7 C426.9 180.5 429.7 174.6 431.5 170.2 C433.3 165.8 434.3 162.4 436.0 158.2 C437.7 154.0 440.0 148.4 441.5 144.9 C443.0 141.4 444.1 139.4 445.1 137.3 C446.2 135.2 446.9 134.0 447.8 132.3 C448.7 130.6 449.8 128.5 450.6 127.2 C451.4 126.0 451.8 125.5 452.5 124.7 C453.2 123.9 453.8 123.2 454.6 122.3 C455.5 121.5 456.7 120.6 457.6 119.8 C458.5 119.0 459.4 118.2 460.0 117.6 C460.6 117.0 460.9 116.6 461.5 116.5 C462.1 116.3 462.7 116.7 463.3 116.6 C463.9 116.5 464.6 116.2 465.3 116.1 C466.0 116.0 466.5 115.9 467.3 116.0 C468.1 116.1 468.9 116.3 470.0 116.7 C471.1 117.1 472.2 117.6 473.6 118.2 C475.0 118.9 476.9 119.5 478.6 120.7 C480.3 121.8 482.2 123.6 484.0 125.2 C485.8 126.7 488.0 128.7 489.4 129.9 C490.8 131.1 490.8 130.6 492.2 132.3 C493.6 133.9 496.1 137.2 498.0 139.7 C499.9 142.2 501.7 144.7 503.5 147.3 C505.3 149.8 507.0 152.4 508.9 154.9 C510.8 157.5 513.2 160.5 514.8 162.7 C516.4 164.9 517.0 165.7 518.7 167.9 C520.4 170.1 522.8 173.2 525.2 175.8 C527.6 178.4 530.5 181.1 533.2 183.7 C535.9 186.4 538.3 189.1 541.5 191.7 C544.7 194.4 549.4 197.7 552.3 199.8 C555.2 201.8 556.7 202.7 559.0 204.0 C561.3 205.3 563.8 206.6 566.0 207.6 C568.2 208.7 569.9 209.4 572.0 210.3 C574.1 211.2 576.3 212.1 578.6 212.8 C580.9 213.5 584.5 214.1 585.7 214.4" stroke="#ffff00"/>
</g>
<path d="M545.9 66.4 H561.4" stroke="#ffff00" stroke-width="2.4"/>
<text x="569.6" y="71.4" style="font-family:'Liberation Serif',serif;font-weight:bold;font-size:16px" textLength="26.2" lengthAdjust="spacingAndGlyphs">pH 1</text>
<path d="M545.9 86.0 H561.4" stroke="#ff9933" stroke-width="2.4"/>
<text x="569.6" y="91.0" style="font-family:'Liberation Serif',serif;font-weight:bold;font-size:16px" textLength="36.4" lengthAdjust="spacingAndGlyphs">pH 1.5</text>
<path d="M545.9 106.3 H561.4" stroke="#ff0000" stroke-width="2.4"/>
<text x="569.6" y="111.3" style="font-family:'Liberation Serif',serif;font-weight:bold;font-size:16px" textLength="26.2" lengthAdjust="spacingAndGlyphs">pH 2</text>
<path d="M545.9 126.1 H561.4" stroke="#a00000" stroke-width="2.4"/>
<text x="569.6" y="131.1" style="font-family:'Liberation Serif',serif;font-weight:bold;font-size:16px" textLength="26.2" lengthAdjust="spacingAndGlyphs">pH 3</text>
<path d="M545.9 146.7 H561.4" stroke="#ff4444" stroke-width="2.4"/>
<text x="569.6" y="151.7" style="font-family:'Liberation Serif',serif;font-weight:bold;font-size:16px" textLength="26.2" lengthAdjust="spacingAndGlyphs">pH 4</text>
<path d="M545.9 168.5 H561.4" stroke="#00ff00" stroke-width="2.4"/>
<text x="569.6" y="173.5" style="font-family:'Liberation Serif',serif;font-weight:bold;font-size:16px" textLength="26.2" lengthAdjust="spacingAndGlyphs">pH 5</text>
<path d="M609.6 65.7 H625.0" stroke="#006600" stroke-width="2.4"/>
<text x="633.6" y="70.7" style="font-family:'Liberation Serif',serif;font-weight:bold;font-size:16px" textLength="26.2" lengthAdjust="spacingAndGlyphs">pH 6</text>
<path d="M609.6 84.9 H625.0" stroke="#44eebb" stroke-width="2.4"/>
<text x="633.6" y="89.9" style="font-family:'Liberation Serif',serif;font-weight:bold;font-size:16px" textLength="26.2" lengthAdjust="spacingAndGlyphs">pH 7</text>
<path d="M609.6 104.8 H625.0" stroke="#2299bb" stroke-width="2.4"/>
<text x="633.6" y="109.8" style="font-family:'Liberation Serif',serif;font-weight:bold;font-size:16px" textLength="26.2" lengthAdjust="spacingAndGlyphs">pH 8</text>
<path d="M609.6 124.4 H625.0" stroke="#0000ff" stroke-width="2.4"/>
<text x="633.6" y="129.4" style="font-family:'Liberation Serif',serif;font-weight:bold;font-size:16px" textLength="26.2" lengthAdjust="spacingAndGlyphs">pH 9</text>
<path d="M609.6 144.0 H625.0" stroke="#9933ff" stroke-width="2.4"/>
<text x="633.6" y="149.0" style="font-family:'Liberation Serif',serif;font-weight:bold;font-size:16px" textLength="32.9" lengthAdjust="spacingAndGlyphs">pH 10</text>
<path d="M609.6 163.8 H625.0" stroke="#330066" stroke-width="2.4"/>
<text x="633.6" y="168.8" style="font-family:'Liberation Serif',serif;font-weight:bold;font-size:16px" textLength="32.9" lengthAdjust="spacingAndGlyphs">pH 11</text>
<path d="M609.6 184.6 H625.0" stroke="#ff3399" stroke-width="2.4"/>
<text x="633.6" y="189.6" style="font-family:'Liberation Serif',serif;font-weight:bold;font-size:16px" textLength="32.9" lengthAdjust="spacingAndGlyphs">pH 12</text>
</svg></body></html>
